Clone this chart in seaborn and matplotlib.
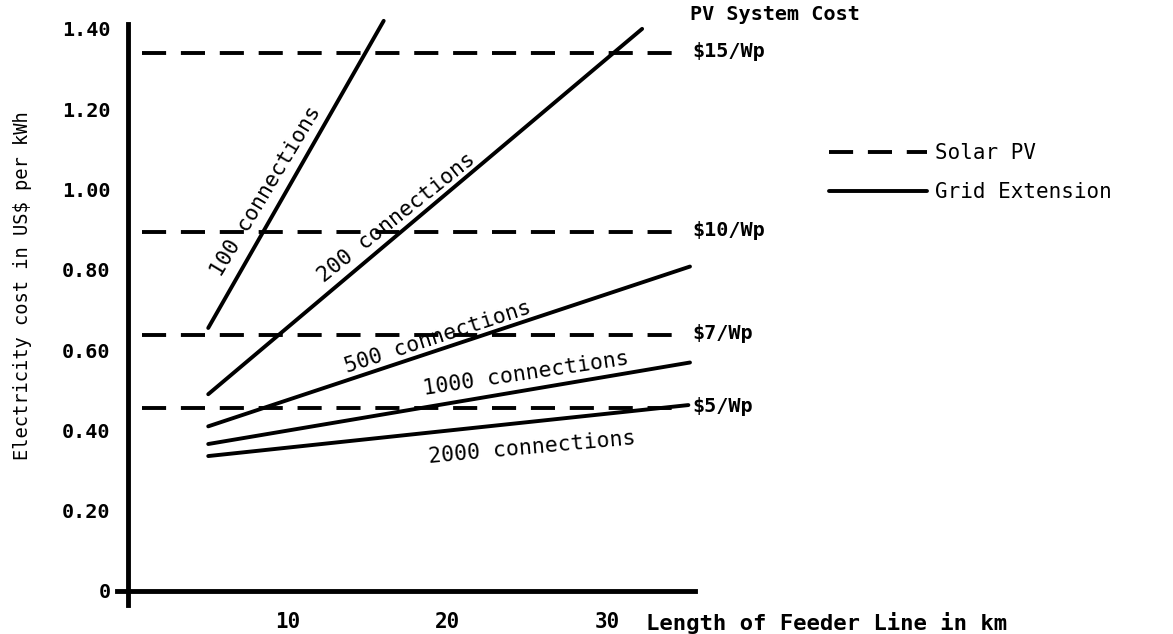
import numpy as np
import pandas as pd
import matplotlib
matplotlib.use('Agg')
import matplotlib.pyplot as plt
from matplotlib.lines import Line2D
import seaborn as sns

# Grid extension cost lines (start / end points)
grid_series = ['100 connections', '200 connections', '500 connections',
               '1000 connections', '2000 connections']
grid_km_start = [5, 5, 5, 5, 5]
grid_km_end = [16.0, 32.2, 35.2, 35.2, 35.1]
grid_cost_start = [0.655, 0.49, 0.41, 0.366, 0.336]
grid_cost_end = [1.42, 1.40, 0.808, 0.569, 0.463]

# Solar PV cost levels
pv_series = ['$15/Wp', '$10/Wp', '$7/Wp', '$5/Wp']
pv_cost = [1.34, 0.894, 0.638, 0.456]
pv_km_start = 0.85
pv_km_end = 34.9

y_ticks = [0, 0.2, 0.4, 0.6, 0.8, 1.0, 1.2, 1.4]
y_tick_labels = ['0', '0.20', '0.40', '0.60', '0.80', '1.00', '1.20', '1.40']
x_ticks = [10, 20, 30]
x_tick_labels = ['10', '20', '30']

# label placement for the connection lines (x, y, angle)
grid_label_pos = [(8.6, 0.995, 59), (16.8, 0.93, 38.5), (19.4, 0.632, 18),
                  (24.9, 0.542, 8.5), (25.3, 0.356, 5.2)]

rows = []
for name, x0, x1, y0, y1 in zip(grid_series, grid_km_start, grid_km_end, grid_cost_start, grid_cost_end):
    rows.append({'km': x0, 'cost': y0, 'series': name, 'kind': 'Grid Extension'})
    rows.append({'km': x1, 'cost': y1, 'series': name, 'kind': 'Grid Extension'})
for name, c in zip(pv_series, pv_cost):
    rows.append({'km': pv_km_start, 'cost': c, 'series': name, 'kind': 'Solar PV'})
    rows.append({'km': pv_km_end, 'cost': c, 'series': name, 'kind': 'Solar PV'})
df = pd.DataFrame(rows)

sns.set_style('white')
plt.rcParams['font.family'] = ['DejaVu Sans Mono']
plt.rcParams['text.color'] = 'black'
plt.rcParams['axes.labelcolor'] = 'black'
plt.rcParams['axes.edgecolor'] = 'black'
plt.rcParams['xtick.color'] = 'black'
plt.rcParams['ytick.color'] = 'black'

fig = plt.figure(figsize=(11.73, 6.34), dpi=100)
ax = fig.add_axes([0.1, 0.0457, 0.4923, 0.9164])

dash_map = {'Solar PV': (6.2, 3.8), 'Grid Extension': ''}
sns.lineplot(data=df, x='km', y='cost', units='series', style='kind', dashes=dash_map,
             estimator=None, sort=False, color='black', linewidth=2.8, legend=False,
             ax=ax, clip_on=False)

ax.set_xlim(-0.7, 35.5)
ax.set_ylim(-0.035, 1.412)
ax.spines['left'].set_position(('data', 0))
ax.spines['bottom'].set_position(('data', 0))
for s in ['top', 'right']:
    ax.spines[s].set_visible(False)
for s in ['left', 'bottom']:
    ax.spines[s].set_linewidth(3.5)
    ax.spines[s].set_color('black')

ax.set_xticks(x_ticks)
ax.set_xticklabels(x_tick_labels, fontsize=15, fontweight='bold')
ax.set_yticks(y_ticks)
ax.set_yticklabels(y_tick_labels, fontsize=14.5, fontweight='bold')
ax.tick_params(axis='both', direction='out', length=8, width=3, color='black', labelcolor='black')
ax.tick_params(axis='y', pad=5)
ax.tick_params(axis='x', pad=7)

ax.set_xlabel('Length of Feeder Line in km', fontsize=16, fontweight='bold', ha='left', va='center')
ax.xaxis.set_label_coords(0.9157, -0.031)
ax.set_ylabel('Electricity cost in US$ per kWh', fontsize=13.5, va='center')
ax.yaxis.set_label_coords(-0.165, 0.549)

for name, (lx, ly, ang) in zip(grid_series, grid_label_pos):
    ax.text(lx, ly, name, rotation=ang, rotation_mode='anchor', ha='center', va='center',
            fontsize=15.5)

ax.text(35.2, 1.435, 'PV System Cost', fontsize=14.5, fontweight='bold', ha='left', va='center')
for name, c in zip(pv_series, pv_cost):
    ax.text(35.35, c + 0.004, name, fontsize=14.5, fontweight='bold', ha='left', va='center')

handles = [Line2D([], [], color='black', linewidth=2.8, dashes=dash_map['Solar PV']),
           Line2D([], [], color='black', linewidth=2.8)]
fig.legend(handles, ['Solar PV', 'Grid Extension'], loc='upper left',
           bbox_to_anchor=(0.707, 0.774), frameon=False, fontsize=15,
           handlelength=4.7, handletextpad=0.35, labelspacing=0.9, borderpad=0,
           borderaxespad=0)

fig.savefig('out.png', dpi=100)
